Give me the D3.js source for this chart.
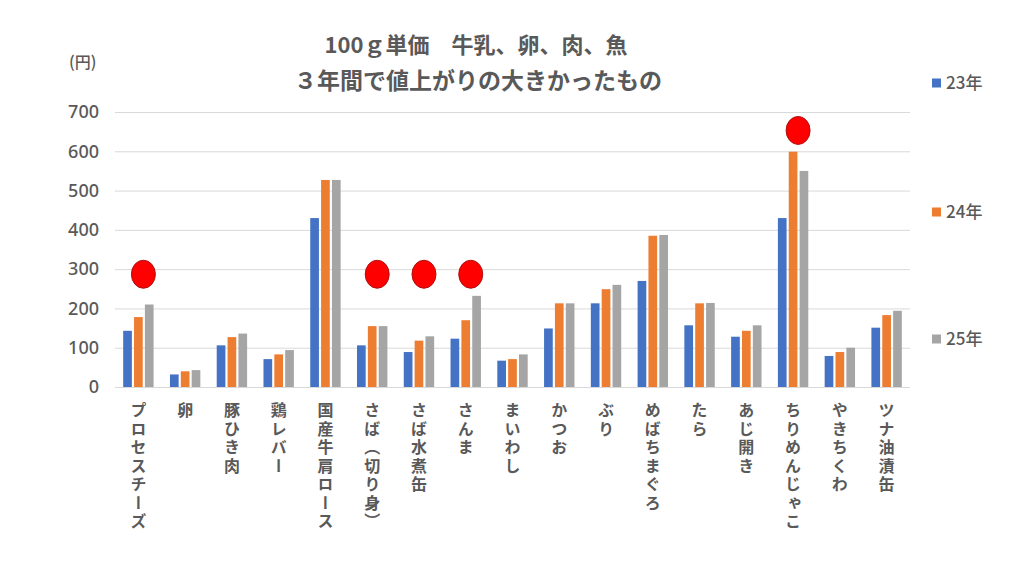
<!DOCTYPE html>
<html>
<head>
<meta charset="utf-8">
<script src="https://cdn.jsdelivr.net/npm/d3@7"></script>
<style>
  body { margin: 0; background: #fff; }
  text { font-family: "Noto Sans CJK JP", "Noto Sans", sans-serif; fill: #595959; }
</style>
</head>
<body>
<svg id="chart" width="1024" height="576"></svg>
<script>
let width = 1024;
let height = 576;

// data (yen per 100g)
let categories = ["プロセスチーズ", "卵", "豚ひき肉", "鶏レバー", "国産牛肩ロース", "さば（切り身）",
  "さば水煮缶", "さんま", "まいわし", "かつお", "ぶり", "めばちまぐろ", "たら", "あじ開き",
  "ちりめんじゃこ", "やきちくわ", "ツナ油漬缶"];
let years = ["23年", "24年", "25年"];
let v23 = [143, 32, 106, 71, 430, 106, 89, 123, 67, 149, 213, 270, 157, 128, 430, 79, 151];
let v24 = [178, 40, 127, 83, 527, 155, 118, 170, 71, 213, 249, 385, 213, 143, 599, 89, 183];
let v25 = [210, 43, 136, 94, 527, 155, 129, 232, 83, 213, 260, 387, 214, 157, 550, 100, 194];
let yTicks = [0, 100, 200, 300, 400, 500, 600, 700];
// red marks: category and height (value) of the mark
let markCats = ["プロセスチーズ", "さば（切り身）", "さば水煮缶", "さんま", "ちりめんじゃこ"];
let markVals = [287, 287, 287, 287, 653];

let colors = ["#4472C4", "#ED7D31", "#A5A5A5"];
let series = [v23, v24, v25];

let svg = d3.select("#chart");

let margin = { top: 112, right: 114, bottom: 189, left: 115 };

let x0 = d3.scaleBand()
  .domain(categories)
  .range([margin.left, width - margin.right])
  .paddingInner(0.35)
  .paddingOuter(0.175);

let x1 = d3.scaleBand()
  .domain(years)
  .range([0, x0.bandwidth()])
  .paddingInner(0.2);

let y = d3.scaleLinear()
  .domain([0, 700])
  .range([height - margin.bottom, margin.top]);

// grid lines
let yAxis = d3.axisLeft(y)
  .tickValues(yTicks)
  .tickSize(-(width - margin.left - margin.right))
  .tickPadding(16);

let yAxisG = svg.append("g")
  .attr("transform", `translate(${margin.left},0)`)
  .call(yAxis);
yAxisG.select(".domain").remove();
yAxisG.selectAll("line").style("stroke", "#d9d9d9").style("stroke-width", 1);
yAxisG.selectAll("text")
  .style("font-size", "18px")
  .style("font-weight", 500)
  .style("fill", "#595959")
  .style("font-family", "'Noto Sans', sans-serif");

// bars
let groups = svg.append("g").selectAll("g")
  .data(categories)
  .join("g")
  .attr("transform", d => `translate(${x0(d)},0)`);

groups.selectAll("rect")
  .data((d, i) => years.map((yr, k) => ({ yr: yr, k: k, v: series[k][i] })))
  .join("rect")
  .attr("x", d => x1(d.yr))
  .attr("width", x1.bandwidth())
  .attr("y", d => y(d.v))
  .attr("height", d => y(0) - y(d.v))
  .attr("fill", d => colors[d.k]);

// vertical category labels
svg.append("g").selectAll("text")
  .data(categories)
  .join("text")
  .attr("x", d => x0(d) + x0.bandwidth() / 2)
  .attr("y", height - margin.bottom + 15)
  .style("writing-mode", "vertical-rl")
  .style("font-size", "16px")
  .style("letter-spacing", "2.5px")
  .style("font-weight", "bold")
  .text(d => d);

// red marks
svg.append("g").selectAll("ellipse")
  .data(markCats)
  .join("ellipse")
  .attr("cx", d => x0(d) + x0.bandwidth() / 2 + 5)
  .attr("cy", (d, i) => y(markVals[i]))
  .attr("rx", 12)
  .attr("ry", 14)
  .attr("fill", "#ff0000")
  .attr("stroke", "#b01010")
  .attr("stroke-width", 1);

// title
svg.append("text")
  .attr("x", 476)
  .attr("y", 53)
  .attr("text-anchor", "middle")
  .style("font-size", "22px")
  .style("font-weight", "bold")
  .text("100ｇ単価　牛乳、卵、肉、魚");

svg.append("text")
  .attr("x", 478)
  .attr("y", 89)
  .attr("text-anchor", "middle")
  .style("font-size", "23px")
  .style("font-weight", "bold")
  .text("３年間で値上がりの大きかったもの");

// unit label
svg.append("text")
  .attr("x", 69)
  .attr("y", 68)
  .style("font-size", "16px")
  .style("font-weight", 500)
  .text("(円)");

// legend, spread down the right side
let legendY = [83, 212, 339];
let legend = svg.append("g").selectAll("g")
  .data(years)
  .join("g")
  .attr("transform", (d, i) => `translate(932,${legendY[i]})`);

legend.append("rect")
  .attr("x", 0)
  .attr("y", -4.5)
  .attr("width", 9)
  .attr("height", 9)
  .attr("fill", (d, i) => colors[i]);

legend.append("text")
  .attr("x", 14)
  .attr("y", 6)
  .style("font-size", "17px")
  .style("font-weight", 500)
  .text(d => d);
</script>
</body>
</html>
